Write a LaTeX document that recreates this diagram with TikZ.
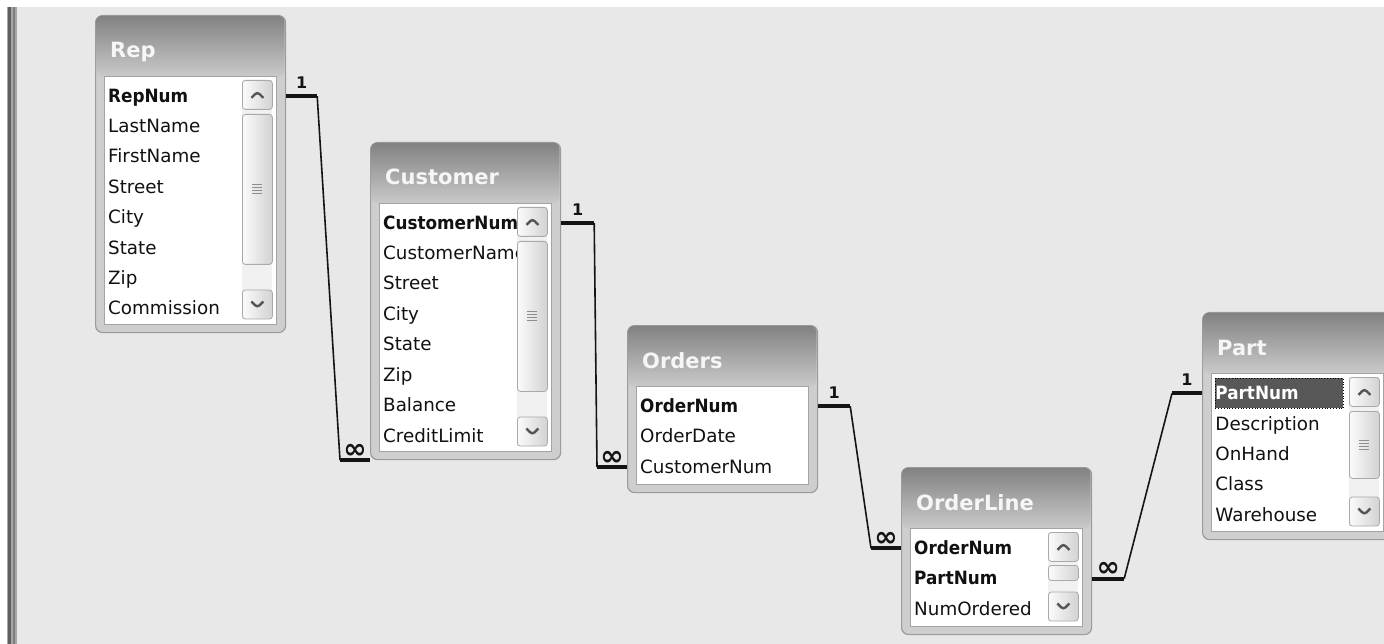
\documentclass[tikz,border=0pt]{standalone}
\usepackage{fontspec}
\setmainfont{DejaVu Sans}
\newfontfamily\keyfont{DejaVu Sans}[FakeStretch=0.92]
\usepackage{tikz}
\usetikzlibrary{positioning}

\definecolor{bgcol}{HTML}{E8E8E8}
\definecolor{frameline}{HTML}{9C9C9C}
\definecolor{framebody}{HTML}{CECECE}
\definecolor{headtop}{HTML}{828282}
\definecolor{headbot}{HTML}{CACACA}
\definecolor{titlecol}{HTML}{F6F6F6}
\definecolor{listline}{HTML}{A4A4A4}
\definecolor{fieldcol}{HTML}{111111}
\definecolor{selcol}{HTML}{585858}
\definecolor{trackcol}{HTML}{F1F1F1}
\definecolor{btnline}{HTML}{A9A9A9}
\definecolor{btnleft}{HTML}{FBFBFB}
\definecolor{btnright}{HTML}{D2D2D2}
\definecolor{arrowcol}{HTML}{555555}
\definecolor{gripcol}{HTML}{8E8E8E}
\definecolor{relcol}{HTML}{141414}
\definecolor{barlight}{HTML}{A6A6A6}
\definecolor{bardark}{HTML}{5E5E5E}

\begin{document}
\begin{tikzpicture}[
        x=1pt, y=-1pt,
        node distance=0pt,
        tbl/.style={draw=frameline, line width=1.2pt, rounded corners=7pt, fill=framebody, minimum width=190pt, inner sep=0pt, anchor=north west},
        head/.style={rounded corners=6.4pt, top color=headtop, bottom color=headbot, minimum width=188.8pt, minimum height=61pt, inner sep=0pt, anchor=north west},
        title/.style={anchor=base west, inner sep=0pt, text=titlecol, font=\fontsize{21}{25}\selectfont\bfseries},
        listbox/.style={draw=listline, line width=1pt, fill=white, minimum width=172pt, inner sep=0pt, anchor=north west},
        field/.style={text width=128pt, align=left, minimum height=30pt, inner sep=0pt, text height=15pt, text depth=3pt, text=fieldcol, font=\fontsize{18.3}{22}\selectfont},
        key/.style={field, font=\fontsize{18.3}{22}\selectfont\keyfont\bfseries},
        selfield/.style={key, fill=selcol, text=white, draw=black, dotted, line width=0.8pt},
        track/.style={fill=trackcol, minimum width=30pt, inner sep=0pt, anchor=north west},
        btn/.style={draw=btnline, line width=0.8pt, rounded corners=3pt, left color=btnleft, right color=btnright, minimum width=30pt, minimum height=29pt, inner sep=0pt},
        upbtn/.style={btn, anchor=north west,
            path picture={\draw[arrowcol, line width=2.4pt] ([xshift=-6pt,yshift=-3pt]path picture bounding box.center) -- ([yshift=3pt]path picture bounding box.center) -- ([xshift=6pt,yshift=-3pt]path picture bounding box.center);}},
        downbtn/.style={btn, anchor=south west,
            path picture={\draw[arrowcol, line width=2.4pt] ([xshift=-6pt,yshift=3pt]path picture bounding box.center) -- ([yshift=-3pt]path picture bounding box.center) -- ([xshift=6pt,yshift=3pt]path picture bounding box.center);}},
        thumb/.style={btn, anchor=north west},
        grip/.style={path picture={\draw[gripcol, line width=1pt]
            ([xshift=-5pt,yshift=4.5pt]path picture bounding box.center) -- ++(10pt,0pt)
            ([xshift=-5pt,yshift=1.5pt]path picture bounding box.center) -- ++(10pt,0pt)
            ([xshift=-5pt,yshift=-1.5pt]path picture bounding box.center) -- ++(10pt,0pt)
            ([xshift=-5pt,yshift=-4.5pt]path picture bounding box.center) -- ++(10pt,0pt);}},
        one/.style={line width=4pt, draw=relcol},
        rel/.style={line width=1.6pt, draw=relcol},
        card/.style={font=\fontsize{16}{18}\selectfont\bfseries, text=relcol, inner sep=0pt, above=6pt},
        many/.style={font=\fontsize{28}{30}\selectfont\bfseries, text=relcol, inner sep=0pt, above=0pt}
    ]
        \useasboundingbox (0,0) rectangle (1384,644);
        \clip (0,0) rectangle (1384,644);
        \fill[white] (0,0) rectangle (1384,644);
        \fill[bgcol] (17,7) rectangle (1384,644);
        \fill[barlight] (7,7) rectangle (17,644);
        \fill[bardark] (8,7) rectangle (11,644);
        \fill[bardark!80] (13,7) rectangle (15,644);

        \node[tbl, minimum height=317pt] (rep) at (95,15) {};
        \node[head] (rep-head) at ([xshift=0.6pt,yshift=-0.6pt]rep.north west) {};
        \node[title] (rep-title) at ([xshift=15pt,yshift=-43pt]rep.north west) {Rep};
        \node[listbox, minimum height=248pt] (rep-list) at ([xshift=9pt,yshift=-61pt]rep.north west) {};
        \node[key, below right=5pt and 4pt of rep-list.north west] (rep-1) {RepNum};
        \node[field, below=of rep-1] (rep-2) {LastName};
        \node[field, below=of rep-2] (rep-3) {FirstName};
        \node[field, below=of rep-3] (rep-4) {Street};
        \node[field, below=of rep-4] (rep-5) {City};
        \node[field, below=of rep-5] (rep-6) {State};
        \node[field, below=of rep-6] (rep-7) {Zip};
        \node[field, below=of rep-7] (rep-8) {Commission};
        \node[track, minimum height=239pt] (rep-track) at ([xshift=138pt,yshift=-4pt]rep-list.north west) {};
        \node[upbtn] (rep-up) at (rep-track.north west) {};
        \node[thumb, grip, minimum height=150pt] (rep-thumb) at ([yshift=-34pt]rep-track.north west) {};
        \node[downbtn] (rep-down) at (rep-track.south west) {};

        \node[tbl, minimum height=317pt] (cust) at (370,142) {};
        \node[head] (cust-head) at ([xshift=0.6pt,yshift=-0.6pt]cust.north west) {};
        \node[title] (cust-title) at ([xshift=15pt,yshift=-43pt]cust.north west) {Customer};
        \node[listbox, minimum height=248pt] (cust-list) at ([xshift=9pt,yshift=-61pt]cust.north west) {};
        \node[key, below right=5pt and 4pt of cust-list.north west] (cust-1) {CustomerNum};
        \node[field, below=of cust-1] (cust-2) {CustomerName};
        \node[field, below=of cust-2] (cust-3) {Street};
        \node[field, below=of cust-3] (cust-4) {City};
        \node[field, below=of cust-4] (cust-5) {State};
        \node[field, below=of cust-5] (cust-6) {Zip};
        \node[field, below=of cust-6] (cust-7) {Balance};
        \node[field, below=of cust-7] (cust-8) {CreditLimit};
        \node[track, minimum height=239pt] (cust-track) at ([xshift=138pt,yshift=-4pt]cust-list.north west) {};
        \node[upbtn] (cust-up) at (cust-track.north west) {};
        \node[thumb, grip, minimum height=150pt] (cust-thumb) at ([yshift=-34pt]cust-track.north west) {};
        \node[downbtn] (cust-down) at (cust-track.south west) {};

        \node[tbl, minimum height=167pt] (orders) at (627,325) {};
        \node[head] (orders-head) at ([xshift=0.6pt,yshift=-0.6pt]orders.north west) {};
        \node[title] (orders-title) at ([xshift=15pt,yshift=-43pt]orders.north west) {Orders};
        \node[listbox, minimum height=98pt] (orders-list) at ([xshift=9pt,yshift=-61pt]orders.north west) {};
        \node[key, below right=5pt and 4pt of orders-list.north west] (orders-1) {OrderNum};
        \node[field, below=of orders-1] (orders-2) {OrderDate};
        \node[field, below=of orders-2] (orders-3) {CustomerNum};

        \node[tbl, minimum height=167pt] (line) at (901,467) {};
        \node[head] (line-head) at ([xshift=0.6pt,yshift=-0.6pt]line.north west) {};
        \node[title] (line-title) at ([xshift=15pt,yshift=-43pt]line.north west) {OrderLine};
        \node[listbox, minimum height=98pt] (line-list) at ([xshift=9pt,yshift=-61pt]line.north west) {};
        \node[key, below right=5pt and 4pt of line-list.north west] (line-1) {OrderNum};
        \node[key, below=of line-1] (line-2) {PartNum};
        \node[field, below=of line-2] (line-3) {NumOrdered};
        \node[track, minimum height=89pt] (line-track) at ([xshift=138pt,yshift=-4pt]line-list.north west) {};
        \node[upbtn] (line-up) at (line-track.north west) {};
        \node[thumb, minimum height=15pt] (line-thumb) at ([yshift=-33pt]line-track.north west) {};
        \node[downbtn] (line-down) at (line-track.south west) {};

        \node[tbl, minimum height=227pt] (part) at (1202,312) {};
        \node[head] (part-head) at ([xshift=0.6pt,yshift=-0.6pt]part.north west) {};
        \node[title] (part-title) at ([xshift=15pt,yshift=-43pt]part.north west) {Part};
        \node[listbox, minimum height=158pt] (part-list) at ([xshift=9pt,yshift=-61pt]part.north west) {};
        \node[selfield, below right=5pt and 4pt of part-list.north west] (part-1) {PartNum};
        \node[field, below=of part-1] (part-2) {Description};
        \node[field, below=of part-2] (part-3) {OnHand};
        \node[field, below=of part-3] (part-4) {Class};
        \node[field, below=of part-4] (part-5) {Warehouse};
        \node[track, minimum height=149pt] (part-track) at ([xshift=138pt,yshift=-4pt]part-list.north west) {};
        \node[upbtn] (part-up) at (part-track.north west) {};
        \node[thumb, grip, minimum height=67pt] (part-thumb) at ([yshift=-34pt]part-track.north west) {};
        \node[downbtn] (part-down) at (part-track.south west) {};

        \draw[one] (rep.east |- rep-1) -- ++(31,0) coordinate (r1-one) node[midway, card] {1};
        \draw[one] (cust.south west) -- ++(-30,0) coordinate (r1-many) node[midway, many] {∞};
        \draw[rel] (r1-one) -- (r1-many);

        \draw[one] (cust.east |- cust-1) -- ++(33,0) coordinate (r2-one) node[midway, card] {1};
        \draw[one] (orders.west |- orders-3) -- ++(-30,0) coordinate (r2-many) node[midway, many] {∞};
        \draw[rel] (r2-one) -- (r2-many);

        \draw[one] (orders.east |- orders-1) -- ++(32,0) coordinate (r3-one) node[midway, card] {1};
        \draw[one] (line.west |- line-1) -- ++(-30,0) coordinate (r3-many) node[midway, many] {∞};
        \draw[rel] (r3-one) -- (r3-many);

        \draw[one] (part.west |- part-1) -- ++(-30,0) coordinate (r4-one) node[midway, card] {1};
        \draw[one] (line.east |- line-2) -- ++(32,0) coordinate (r4-many) node[midway, many] {∞};
        \draw[rel] (r4-one) -- (r4-many);
\end{tikzpicture}
\end{document}
